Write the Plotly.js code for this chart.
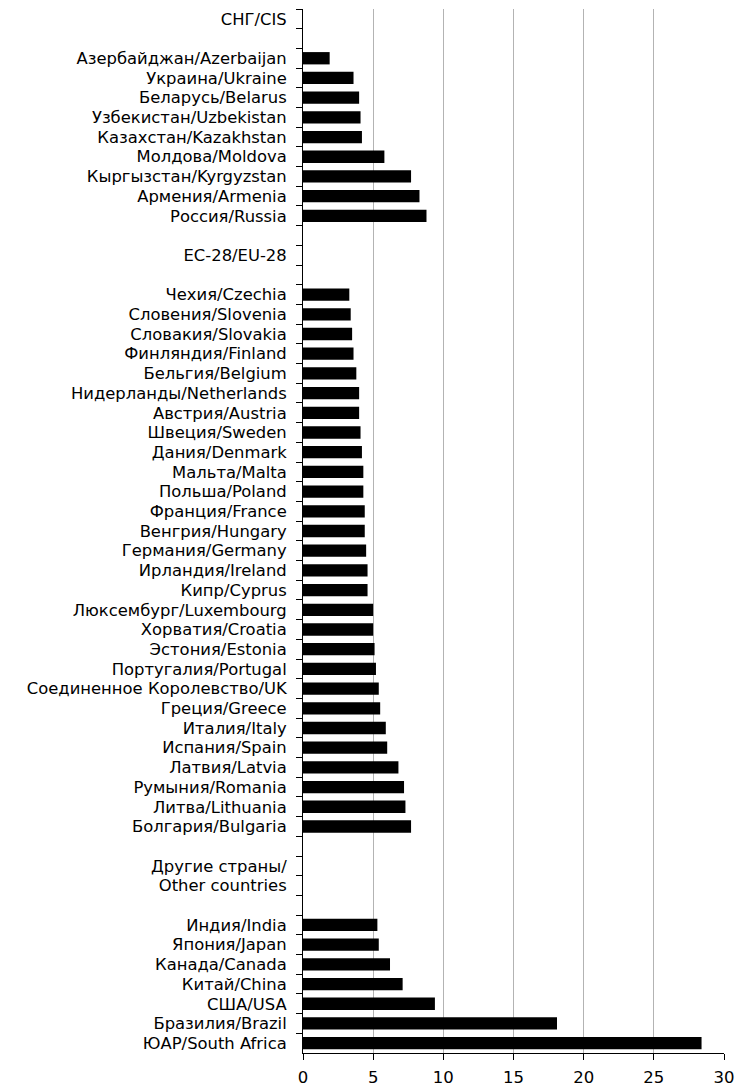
<!DOCTYPE html>
<html>
<head>
<meta charset="utf-8">
<script src="https://cdn.plot.ly/plotly-3.0.1.min.js"></script>
<style>html,body{margin:0;padding:0;background:#fff;}#chart{width:736px;height:1089px;}</style>
</head>
<body>
<div id="chart"></div>
<script>
const cisHeader = "СНГ/CIS";
const cisCountries = ["Азербайджан/Azerbaijan","Украина/Ukraine","Беларусь/Belarus","Узбекистан/Uzbekistan","Казахстан/Kazakhstan","Молдова/Moldova","Кыргызстан/Kyrgyzstan","Армения/Armenia","Россия/Russia"];
const cisValues = [1.9, 3.6, 4.0, 4.1, 4.2, 5.8, 7.7, 8.3, 8.8];

const euHeader = "ЕС-28/EU-28";
const euCountries = ["Чехия/Czechia","Словения/Slovenia","Словакия/Slovakia","Финляндия/Finland","Бельгия/Belgium","Нидерланды/Netherlands","Австрия/Austria","Швеция/Sweden","Дания/Denmark","Мальта/Malta","Польша/Poland","Франция/France","Венгрия/Hungary","Германия/Germany","Ирландия/Ireland","Кипр/Cyprus","Люксембург/Luxembourg","Хорватия/Croatia","Эстония/Estonia","Португалия/Portugal","Соединенное Королевство/UK","Греция/Greece","Италия/Italy","Испания/Spain","Латвия/Latvia","Румыния/Romania","Литва/Lithuania","Болгария/Bulgaria"];
const euValues = [3.3, 3.4, 3.5, 3.6, 3.8, 4.0, 4.0, 4.1, 4.2, 4.3, 4.3, 4.4, 4.4, 4.5, 4.6, 4.6, 5.0, 5.0, 5.1, 5.2, 5.4, 5.5, 5.9, 6.0, 6.8, 7.2, 7.3, 7.7];

const otherHeader = ["Другие страны/", "Other countries"];
const otherCountries = ["Индия/India","Япония/Japan","Канада/Canada","Китай/China","США/USA","Бразилия/Brazil","ЮАР/South Africa"];
const otherValues = [5.3, 5.4, 6.2, 7.1, 9.4, 18.1, 28.4];

const xTicks = [0, 5, 10, 15, 20, 25, 30];

// build category list (blank rows need unique names)
let blankN = 0;
const blank = () => " ".repeat(++blankN);
const cats = [], vals = [];
function push(c, v) { cats.push(c); vals.push(v); }
push(cisHeader, null); push(blank(), null);
cisCountries.forEach((c, i) => push(c, cisValues[i]));
push(blank(), null); push(euHeader, null); push(blank(), null);
euCountries.forEach((c, i) => push(c, euValues[i]));
push(blank(), null);
otherHeader.forEach(h => push(h, null));
push(blank(), null);
otherCountries.forEach((c, i) => push(c, otherValues[i]));

const font = "'DejaVu Sans', sans-serif";
Plotly.newPlot("chart", [{
  type: "bar", orientation: "h",
  x: vals, y: cats,
  marker: {color: "#000000", line: {width: 0}},
  hoverinfo: "x+y"
}], {
  width: 736, height: 1089,
  margin: {l: 303, r: 12, t: 9, b: 36, pad: 0},
  paper_bgcolor: "#ffffff", plot_bgcolor: "#ffffff",
  bargap: 0.375,
  showlegend: false,
  font: {family: font, color: "#000000", size: 16},
  xaxis: {
    range: [0, 30], tickvals: xTicks, ticktext: xTicks.map(String),
    showgrid: true, gridcolor: "#b3b3b3", gridwidth: 1,
    zeroline: false, showline: true, linecolor: "#000000", linewidth: 1,
    ticks: "outside", ticklen: 6, tickcolor: "#000000",
    ticklabelstandoff: 3,
    tickfont: {family: font, size: 16.5, color: "#000000"}
  },
  yaxis: {
    type: "category", categoryorder: "array", categoryarray: cats,
    autorange: "reversed", tickmode: "linear", dtick: 1, tick0: 0,
    showgrid: false, zeroline: false,
    showline: true, linecolor: "#000000", linewidth: 1,
    ticks: "outside", ticklen: 6, tickcolor: "#000000", tickson: "boundaries",
    ticklabelstandoff: 12,
    tickfont: {family: font, size: 16.4, color: "#000000"}
  }
}, {staticPlot: true});
</script>
</body>
</html>
